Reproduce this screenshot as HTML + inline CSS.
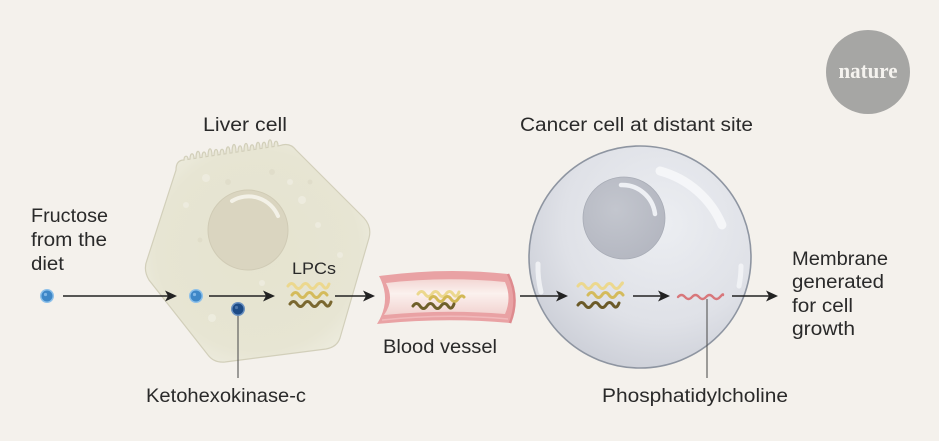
<!DOCTYPE html>
<html>
<head>
<meta charset="utf-8">
<style>
  html,body{margin:0;padding:0;background:#f4f1ec;}
  svg{display:block;}
  text{font-family:"Liberation Sans",sans-serif;fill:#2a2a2a;}
</style>
</head>
<body>
<svg width="939" height="441" viewBox="0 0 939 441" xmlns="http://www.w3.org/2000/svg">
  <defs>
    <radialGradient id="liverG" cx="0.5" cy="0.5" r="0.6">
      <stop offset="0" stop-color="#e5e3cf"/>
      <stop offset="0.75" stop-color="#e7e5d3"/>
      <stop offset="1" stop-color="#efeee2"/>
    </radialGradient>
    <radialGradient id="cancerG" cx="0.6" cy="0.35" r="0.75">
      <stop offset="0" stop-color="#eceef2"/>
      <stop offset="0.6" stop-color="#dfe1e7"/>
      <stop offset="1" stop-color="#c8cbd4"/>
    </radialGradient>
    <radialGradient id="cNucG" cx="0.4" cy="0.4" r="0.7">
      <stop offset="0" stop-color="#c3c6ce"/>
      <stop offset="1" stop-color="#b3b6c0"/>
    </radialGradient>
    <linearGradient id="lumenG" x1="0" y1="0" x2="0" y2="1">
      <stop offset="0" stop-color="#f3d7d4"/>
      <stop offset="0.4" stop-color="#fbf1ee"/>
      <stop offset="1" stop-color="#f2d3d0"/>
    </linearGradient>
  </defs>

  <rect x="0" y="0" width="939" height="441" fill="#f4f1ec"/>

  <!-- nature logo -->
  <circle cx="868" cy="72" r="42" fill="#a6a6a4"/>
  <text x="868" y="78" text-anchor="middle" textLength="59" lengthAdjust="spacingAndGlyphs" style="font-family:'Liberation Serif',serif;font-size:22px;font-weight:bold;fill:#f5f3ef;">nature</text>

  <!-- Liver cell -->
  <path d="M176,170 Q176,160 184,160
           c0,-5 4,-5 4,-0.6 l2,-0.3
           c0,-7 4,-7 4,-0.6 l2,-0.3
           c0,-9 4,-9 4,-0.6 l2,-0.3
           c0,-7 4,-7 4,-0.6 l2,-0.3
           c0,-10 4,-10 4,-0.6 l2,-0.3
           c0,-8 4,-8 4,-0.6 l2,-0.3
           c0,-7 4,-7 4,-0.6 l2,-0.3
           c0,-9 4,-9 4,-0.6 l2,-0.3
           c0,-11 4,-11 4,-0.6 l2,-0.3
           c0,-8 4,-8 4,-0.6 l2,-0.3
           c0,-10 4,-10 4,-0.6 l2,-0.3
           c0,-7 4,-7 4,-0.6 l2,-0.3
           c0,-9 4,-9 4,-0.6 l2,-0.3
           c0,-8 4,-8 4,-0.6 l2,-0.3
           c0,-10 4,-10 4,-0.6 l2,-0.3
           c0,-7 4,-7 4,-0.6 l2,-0.3
           Q290,142 296,150
           L364,218 Q372,227 369,238
           L340,338 Q337,347 326,349
           L225,362 Q214,363 208,355
           L149,280 Q143,270 147,260
           Z" fill="url(#liverG)" stroke="#d2cfba" stroke-width="1.2"/>
  <!-- speckles -->
  <g fill="#efede1" opacity="0.8">
    <circle cx="206" cy="178" r="4"/>
    <circle cx="290" cy="182" r="3"/>
    <circle cx="302" cy="200" r="4"/>
    <circle cx="186" cy="205" r="3"/>
    <circle cx="318" cy="225" r="3"/>
    <circle cx="262" cy="283" r="3"/>
    <circle cx="212" cy="318" r="4"/>
    <circle cx="340" cy="255" r="3"/>
  </g>
  <g fill="#dedbc7" opacity="0.7">
    <circle cx="228" cy="182" r="3"/>
    <circle cx="272" cy="172" r="3"/>
    <circle cx="200" cy="240" r="2.5"/>
    <circle cx="310" cy="182" r="2.5"/>
  </g>
  <!-- liver nucleus -->
  <circle cx="248" cy="230" r="40" fill="#dad5c0" stroke="#d0cbb5" stroke-width="1"/>
  <path d="M232,201 A32,32 0 0 1 278,216" fill="none" stroke="#f3f1e7" stroke-width="4" stroke-linecap="round"/>

  <!-- Blood vessel -->
  <path d="M379,276 Q445,267 508,274 Q520,298 510,323 Q445,317 377,324 Q392,300 379,276 Z" fill="#e9a2a4"/>
  <path d="M386,283 Q445,276 505,282 Q512,298 505,314 Q445,309 384,315 Q395,300 386,283 Z" fill="url(#lumenG)"/>
  <path d="M508,274 Q520,298 510,323" fill="none" stroke="#de8a8e" stroke-width="2.5"/>
  <path d="M382,320 Q445,313 508,319" fill="none" stroke="#f2bfc0" stroke-width="1.5" opacity="0.8"/>

  <!-- Cancer cell -->
  <circle cx="640" cy="257" r="111" fill="url(#cancerG)" stroke="#8e95a1" stroke-width="1.6"/>
  <circle cx="624" cy="218" r="41" fill="url(#cNucG)" stroke="#a8acb6" stroke-width="0.8"/>
  <path d="M621,185 A33,33 0 0 1 655,214" fill="none" stroke="#eef0f4" stroke-width="4.5" stroke-linecap="round"/>
  <path d="M660,171 A94,94 0 0 1 722,225" fill="none" stroke="#f6f7f9" stroke-width="9" stroke-linecap="round" opacity="0.9"/>
  <path d="M538,264 A102,102 0 0 0 541,292" fill="none" stroke="#f3f4f7" stroke-width="5" stroke-linecap="round" opacity="0.85"/>
  <path d="M741,266 A102,102 0 0 1 739,286" fill="none" stroke="#f3f4f7" stroke-width="5" stroke-linecap="round" opacity="0.85"/>

  <!-- Squiggles -->
  <g fill="none" stroke-width="3" stroke-linecap="round">
    <!-- liver -->
    <path d="M288,286 q3.5,-5 7,0 t7,0 t7,0 t7,0 t7,0 t6,-2" stroke="#ecd88e"/>
    <path d="M292,295 q3.5,-5 7,0 t7,0 t7,0 t7,0 t7,0" stroke="#d4bb5c"/>
    <path d="M290,304 q3.5,-5 7,0 t7,0 t7,0 t7,0 t7,0 t6,-2" stroke="#7a6830"/>
    <!-- vessel -->
    <path d="M418,294 q3.5,-5 7,0 t7,0 t7,0 t7,0 t7,0 t6,-2" stroke="#ecd88e"/>
    <path d="M430,299 q3.5,-5 7,0 t7,0 t7,0 t7,0 t6,-2" stroke="#d2b855"/>
    <path d="M413,306 q3.5,-5 7,0 t7,0 t7,0 t7,0 t7,0 t6,-2" stroke="#6f5f2a"/>
    <!-- cancer -->
    <path d="M578,286 q3.5,-5 7,0 t7,0 t7,0 t7,0 t7,0 t7,0 t2,-2" stroke="#ecd88e"/>
    <path d="M588,295 q3.5,-5 7,0 t7,0 t7,0 t7,0 t7,0" stroke="#d4bb5c"/>
    <path d="M578,305 q3.5,-5 7,0 t7,0 t7,0 t7,0 t7,0 t6,-2" stroke="#6b5a28"/>
    <!-- phosphatidylcholine -->
    <path d="M678,297 q3.5,-4 7,0 t7,0 t7,0 t7,0 t7,0 t7,0 t3,-2" stroke="#d8777b" stroke-width="2.4"/>
  </g>

  <!-- leader lines -->
  <line x1="238" y1="314" x2="238" y2="378" stroke="#555" stroke-width="1.1"/>
  <line x1="707" y1="299" x2="707" y2="378" stroke="#555" stroke-width="1.1"/>

  <!-- arrows -->
  <g stroke="#222" stroke-width="1.6">
    <line x1="63" y1="296" x2="170" y2="296"/>
    <line x1="209" y1="296" x2="268" y2="296"/>
    <line x1="335" y1="296" x2="368" y2="296"/>
    <line x1="520" y1="296" x2="561" y2="296"/>
    <line x1="633" y1="296" x2="663" y2="296"/>
    <line x1="732" y1="296" x2="771" y2="296"/>
  </g>
  <g fill="#222">
    <path d="M177,296 L165,290.5 L168,296 L165,301.5 Z"/>
    <path d="M275,296 L263,290.5 L266,296 L263,301.5 Z"/>
    <path d="M375,296 L363,290.5 L366,296 L363,301.5 Z"/>
    <path d="M568,296 L556,290.5 L559,296 L556,301.5 Z"/>
    <path d="M670,296 L658,290.5 L661,296 L658,301.5 Z"/>
    <path d="M778,296 L766,290.5 L769,296 L766,301.5 Z"/>
  </g>

  <!-- dots -->
  <circle cx="47" cy="296" r="7" fill="#8cc0ea"/>
  <circle cx="47" cy="296" r="5.5" fill="#3e87c7"/>
  <circle cx="45.5" cy="294.5" r="1.6" fill="#7fb6e6"/>
  <circle cx="196" cy="296" r="7" fill="#8cc0ea"/>
  <circle cx="196" cy="296" r="5.5" fill="#3e87c7"/>
  <circle cx="194.5" cy="294.5" r="1.6" fill="#7fb6e6"/>
  <circle cx="238" cy="309" r="7" fill="#6a90c0"/>
  <circle cx="238" cy="309" r="5.5" fill="#1c4a86"/>
  <circle cx="236.5" cy="307.5" r="1.6" fill="#4a74aa"/>

  <!-- labels -->
  <g style="font-size:19px;">
    <text x="203" y="131" textLength="84" lengthAdjust="spacingAndGlyphs">Liver cell</text>
    <text x="520" y="131" textLength="233" lengthAdjust="spacingAndGlyphs">Cancer cell at distant site</text>
    <text x="31" y="222" textLength="77" lengthAdjust="spacingAndGlyphs">Fructose</text>
    <text x="31" y="246" textLength="76" lengthAdjust="spacingAndGlyphs">from the</text>
    <text x="31" y="270" textLength="33" lengthAdjust="spacingAndGlyphs">diet</text>
    <text x="383" y="353" textLength="114" lengthAdjust="spacingAndGlyphs">Blood vessel</text>
    <text x="146" y="402" textLength="160" lengthAdjust="spacingAndGlyphs">Ketohexokinase-c</text>
    <text x="602" y="402" textLength="186" lengthAdjust="spacingAndGlyphs">Phosphatidylcholine</text>
    <text x="792" y="265" textLength="96" lengthAdjust="spacingAndGlyphs">Membrane</text>
    <text x="792" y="288" textLength="92" lengthAdjust="spacingAndGlyphs">generated</text>
    <text x="792" y="312" textLength="61" lengthAdjust="spacingAndGlyphs">for cell</text>
    <text x="792" y="335" textLength="63" lengthAdjust="spacingAndGlyphs">growth</text>
  </g>
  <text x="292" y="274" textLength="44" lengthAdjust="spacingAndGlyphs" style="font-size:17px;">LPCs</text>
</svg>
</body>
</html>
